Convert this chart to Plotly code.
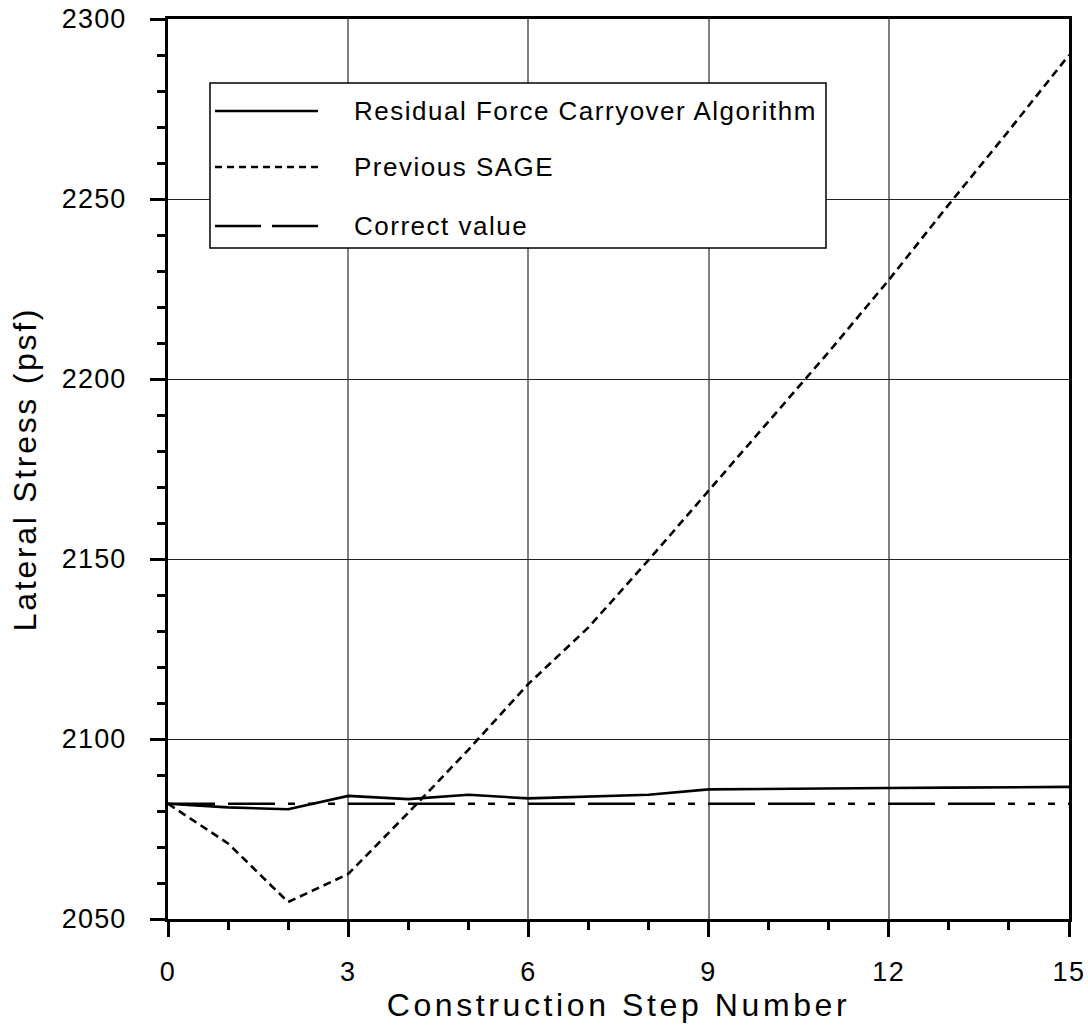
import plotly.graph_objects as go

# Construction steps and lateral stress results (psf)
steps = list(range(16))
residual_force = [2082.0, 2081.0, 2080.5, 2084.2, 2083.3, 2084.5, 2083.5, 2084.0,
                  2084.5, 2086.0, 2086.2, 2086.3, 2086.4, 2086.5, 2086.6, 2086.7]
previous_sage = [2082.0, 2071.0, 2054.7, 2062.5, 2079.5, 2097.0, 2115.3, 2131.0,
                 2149.7, 2169.0, 2188.0, 2207.5, 2227.5, 2248.5, 2269.0, 2290.0]
correct_value = [2082.0] * 16

series_names = ["Residual Force Carryover Algorithm", "Previous SAGE", "Correct value"]
series_data = [residual_force, previous_sage, correct_value]
series_dash = ["solid", "8px,5px", "47px,13px,47px,13px,7px,13px,7px,13px,7px,13px"]
legend_dash = ["solid", "7px,5px", "46px,11px"]

x_ticks = [0, 3, 6, 9, 12, 15]
y_ticks = [2050, 2100, 2150, 2200, 2250, 2300]

FONT = "Liberation Sans, Arial, sans-serif"


def spaced(text, px):
    return f'<span style="letter-spacing:{px}px">{text}</span>'


fig = go.Figure()
for name, ys, dash in zip(series_names, series_data, series_dash):
    fig.add_trace(go.Scatter(
        x=steps, y=ys, mode="lines", name=name,
        line=dict(color="black", width=2.6, dash=dash),
        showlegend=False,
    ))

# Hand-drawn legend box with long line samples
shapes = [dict(type="rect", xref="paper", yref="paper",
               x0=0.0466, x1=0.7303, y0=0.7456, y1=0.9289,
               line=dict(color="black", width=1.5), fillcolor="white", layer="above")]
annotations = []
row_y = [0.8978, 0.8356, 0.7700]
for name, dash, ry in zip(series_names, legend_dash, row_y):
    shapes.append(dict(type="line", xref="paper", yref="paper",
                       x0=0.0522, x1=0.1665, y0=ry, y1=ry,
                       line=dict(color="black", width=2.6, dash=dash), layer="above"))
    annotations.append(dict(xref="paper", yref="paper", x=0.2042, y=ry,
                            xanchor="left", yanchor="middle", showarrow=False,
                            text=spaced(name, 1.5),
                            font=dict(family=FONT, size=26, color="black")))

fig.update_layout(
    width=1088, height=1030,
    margin=dict(l=168, r=19, t=19, b=111, pad=0),
    paper_bgcolor="white", plot_bgcolor="white",
    font=dict(family=FONT, color="black"),
    shapes=shapes, annotations=annotations,
    showlegend=False,
)

fig.update_xaxes(
    range=[0, 15], tickmode="array", tickvals=x_ticks,
    ticktext=[spaced(str(v), 1.5) for v in x_ticks],
    ticks="outside", ticklen=15, tickwidth=3, tickcolor="black",
    minor=dict(dtick=1, ticks="outside", ticklen=8, tickwidth=3, tickcolor="black", showgrid=False),
    showline=True, linewidth=3, linecolor="black", mirror=True,
    showgrid=True, gridcolor="#808080", gridwidth=1.5,
    tickfont=dict(family=FONT, size=27, color="black"),
    ticklabelstandoff=12,
    title=dict(text=spaced("Construction Step Number", 3.6),
               font=dict(family=FONT, size=32, color="black"), standoff=6),
    zeroline=False, automargin=False,
)
fig.update_yaxes(
    range=[2050, 2300], tickmode="array", tickvals=y_ticks,
    ticktext=[spaced(str(v), 1.2) for v in y_ticks],
    ticks="outside", ticklen=15, tickwidth=3, tickcolor="black",
    minor=dict(dtick=10, ticks="outside", ticklen=8, tickwidth=3, tickcolor="black", showgrid=False),
    showline=True, linewidth=3, linecolor="black", mirror=True,
    showgrid=True, gridcolor="#222222", gridwidth=1,
    tickfont=dict(family=FONT, size=27, color="black"),
    ticklabelstandoff=18,
    title=dict(text=spaced("Lateral Stress (psf)", 2.7),
               font=dict(family=FONT, size=32, color="black"), standoff=16),
    zeroline=False, automargin=False,
)

fig.write_html("out.html")
